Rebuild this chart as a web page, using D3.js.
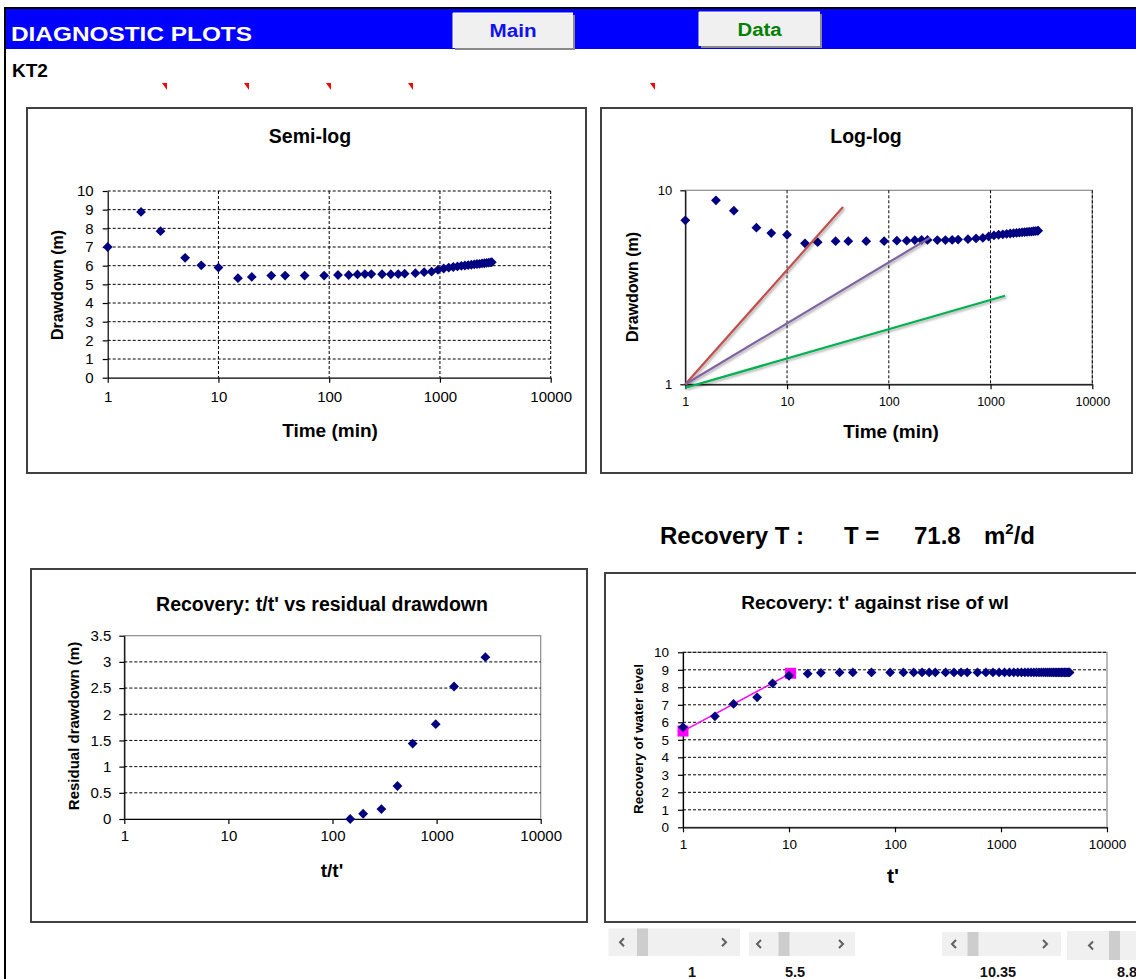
<!DOCTYPE html>
<html lang="en">
<head>
<meta charset="UTF-8" />
<title>Diagnostic plots</title>
<script src="https://d3js.org/d3.v7.min.js"></script>
<style>
  body { margin: 0; background: #fff; overflow: hidden; }
  svg text { font-family: "Liberation Sans", Arial, sans-serif; }
</style>
</head>
<body>
<svg id="page" width="1136" height="979"></svg>
<script>
// pumping phase: time (min) and drawdown (m)
const pumpTime = [1, 2, 3, 5, 7, 10, 15, 20, 30, 40, 60, 90, 120, 150, 180, 210, 240, 300, 360, 420,
  480, 600, 720, 840, 960, 1080, 1200, 1320, 1440, 1560, 1680, 1800, 1920, 2040, 2160, 2280, 2400,
  2520, 2640, 2760, 2880, 2940];
const drawdown = [7.0, 8.88, 7.85, 6.42, 6.02, 5.9, 5.33, 5.4, 5.47, 5.47, 5.47, 5.47, 5.5, 5.5, 5.53,
  5.55, 5.55, 5.54, 5.54, 5.55, 5.57, 5.6, 5.65, 5.68, 5.78, 5.85, 5.9, 5.93, 5.96, 5.99, 6.01, 6.03,
  6.05, 6.07, 6.09, 6.1, 6.12, 6.13, 6.15, 6.16, 6.18, 6.19];

// straight guide lines on the log-log plot (start / end points)
const guideT = [[1, 35.5], [1, 254], [1, 1390]];
const guideS = [[1, 8.2], [1, 5.7], [0.96, 2.86]];

// recovery: t/t' against residual drawdown
const ttRatio = [2941, 1471, 981, 589, 421, 295, 197, 148];
const residual = [3.09, 2.53, 1.81, 1.44, 0.63, 0.19, 0.1, 0.0];

// recovery: t' against rise of water level
const recTime = [1, 2, 3, 5, 7, 10, 15, 20, 30, 40, 60, 90, 120, 150, 180, 210, 240, 300, 360, 420,
  480, 600, 720, 840, 960, 1080, 1200, 1320, 1440, 1560, 1680, 1800, 1920, 2040, 2160, 2280, 2400,
  2520, 2640, 2760, 2880, 3000, 3120, 3240, 3360, 3480, 3600, 3720, 3840, 3960, 4080, 4200, 4320, 4440];
const recRise = [5.72, 6.34, 7.05, 7.43, 8.23, 8.66, 8.78, 8.83, 8.85, 8.85, 8.85, 8.85, 8.85, 8.85,
  8.85, 8.85, 8.85, 8.85, 8.85, 8.85, 8.85, 8.85, 8.85, 8.85, 8.85, 8.85, 8.85, 8.85, 8.85, 8.85,
  8.85, 8.85, 8.85, 8.85, 8.85, 8.85, 8.85, 8.85, 8.85, 8.85, 8.85, 8.85, 8.85, 8.85, 8.85, 8.85,
  8.85, 8.85, 8.85, 8.85, 8.85, 8.85, 8.85, 8.85];

// fitted straight line (scroll bar values)
const fitT = [1, 10.35];
const fitRise = [5.5, 8.8];
const scrollLabels = ["1", "5.5", "10.35", "8.8"];
const transmissivity = "71.8";

// tick values
const logTicks = [1, 10, 100, 1000, 10000];
const tenTicks = [0, 1, 2, 3, 4, 5, 6, 7, 8, 9, 10];
const residTicks = [0, 0.5, 1, 1.5, 2, 2.5, 3, 3.5];
const loglogYTicks = [1, 10];

const FONT = '"Liberation Sans", Arial, sans-serif';
const diamond = "M0,-4.9L4.9,0L0,4.9L-4.9,0Z";
const svg = d3.select("#page");

const defs = svg.append("defs");
defs.append("filter").attr("id", "shadow").attr("x", "-10%").attr("y", "-10%")
  .attr("width", "130%").attr("height", "130%")
  .append("feDropShadow").attr("dx", 1.5).attr("dy", 1.5).attr("stdDeviation", 1)
  .attr("flood-color", "#000").attr("flood-opacity", 0.35);

// ---- page frame and header ----
svg.append("rect").attr("x", 4).attr("y", 7).attr("width", 1132).attr("height", 2).attr("fill", "#000");
svg.append("rect").attr("x", 4).attr("y", 7).attr("width", 2).attr("height", 972).attr("fill", "#000");
svg.append("rect").attr("x", 6).attr("y", 9).attr("width", 1130).attr("height", 40).attr("fill", "#0000ff");
svg.append("text").attr("x", 11).attr("y", 41).attr("font-size", 21).attr("font-weight", "bold")
  .attr("fill", "#fff").attr("textLength", 241).attr("lengthAdjust", "spacingAndGlyphs")
  .text("DIAGNOSTIC PLOTS");

function button(x, y, w, h, str, color, len) {
  svg.append("rect").attr("x", x + 2).attr("y", y + 2).attr("width", w).attr("height", h).attr("fill", "#8a8a8a");
  svg.append("rect").attr("x", x).attr("y", y).attr("width", w).attr("height", h).attr("fill", "#f0f0f0");
  svg.append("path").attr("d", `M${x},${y + h}V${y}H${x + w}`).attr("stroke", "#fff").attr("fill", "none");
  svg.append("text").attr("x", x + w / 2).attr("y", y + h / 2 + 6.5).attr("text-anchor", "middle")
    .attr("font-size", 18).attr("font-weight", "bold").attr("fill", color)
    .attr("textLength", len).attr("lengthAdjust", "spacingAndGlyphs").text(str);
}
button(453, 13, 120, 35, "Main", "#1010f0", 47);
button(699, 12, 121, 34, "Data", "#008000", 44);

svg.append("text").attr("x", 12).attr("y", 77).attr("font-size", 19).attr("font-weight", "bold").text("KT2");

// little red comment markers
svg.selectAll("polygon.mark").data([167, 249, 331, 413, 655]).join("polygon")
  .attr("points", d => `${d - 5},83 ${d},83 ${d},90`).attr("fill", "#ff0000");

// ---- helpers ----
function chartBox(x0, y0, x1, y1) {
  svg.append("rect").attr("x", x0).attr("y", y0).attr("width", x1 - x0).attr("height", y1 - y0)
    .attr("fill", "#fff").attr("stroke", "#404040").attr("stroke-width", 2);
}

function addText(str, x, y, size, rotate) {
  const t = svg.append("text").attr("x", x).attr("y", y).attr("font-size", size)
    .attr("font-weight", "bold").attr("text-anchor", "middle").attr("fill", "#000").text(str);
  if (rotate) t.attr("transform", `rotate(-90,${x},${y})`);
  return t;
}

function drawPlot(cfg) {
  const x = d3.scaleLog().domain([1, 10000]).range([cfg.left, cfg.right]);
  const y = cfg.y.range([cfg.bottom, cfg.top]);
  const g = svg.append("g");
  if (cfg.grayBorder) {
    g.append("rect").attr("x", cfg.left).attr("y", cfg.top)
      .attr("width", cfg.right - cfg.left).attr("height", cfg.bottom - cfg.top)
      .attr("fill", "none").attr("stroke", "#8c8c8c").attr("stroke-width", 1.2);
  }
  g.selectAll("line.h").data(cfg.hGrid).join("line").attr("class", "h")
    .attr("x1", cfg.left).attr("x2", cfg.right)
    .attr("y1", d => y(d)).attr("y2", d => y(d))
    .attr("stroke", "#000").attr("stroke-width", 1).attr("stroke-dasharray", "3,2");
  g.selectAll("line.v").data(cfg.vGrid).join("line").attr("class", "v")
    .attr("x1", d => x(d)).attr("x2", d => x(d))
    .attr("y1", cfg.top).attr("y2", cfg.bottom)
    .attr("stroke", "#000").attr("stroke-width", 1).attr("stroke-dasharray", "3,2");

  const ax = g.append("g").attr("transform", `translate(0,${cfg.bottom})`)
    .call(d3.axisBottom(x).tickValues(logTicks).tickFormat(d3.format("d"))
      .tickSize(5).tickSizeOuter(0).tickPadding(cfg.xPad));
  const ay = g.append("g").attr("transform", `translate(${cfg.left},0)`)
    .call(d3.axisLeft(y).tickValues(cfg.yTicks).tickFormat(d => String(d))
      .tickSize(5).tickSizeOuter(0).tickPadding(cfg.yPad));
  ax.attr("font-family", FONT).selectAll("text").attr("font-size", cfg.xFont);
  ay.attr("font-family", FONT).selectAll("text").attr("font-size", cfg.yFont);
  g.selectAll(".domain, .tick line").attr("stroke", "#000").attr("stroke-width", 1.2);
  return { g, x, y };
}

// ---- Semi-log ----
chartBox(27, 108, 586, 473);
addText("Semi-log", 310, 143, 19.5);
addText("Drawdown (m)", 63, 285, 16, true);
addText("Time (min)", 330, 437, 19);
const semi = drawPlot({
  left: 107.7, right: 550.7, top: 191, bottom: 377.7,
  y: d3.scaleLinear().domain([0, 10]), yTicks: tenTicks,
  hGrid: tenTicks.slice(1), vGrid: logTicks.slice(1),
  xPad: 9, yPad: 9, xFont: 15, yFont: 15
});
semi.g.selectAll("path.pt").data(d3.zip(pumpTime, drawdown)).join("path").attr("class", "pt")
  .attr("d", diamond).attr("fill", "#000080")
  .attr("transform", d => `translate(${semi.x(d[0])},${semi.y(d[1])})`);

// ---- Log-log ----
chartBox(601, 108, 1132, 473);
addText("Log-log", 866, 143, 19.5);
addText("Drawdown (m)", 638, 287, 16, true);
addText("Time (min)", 891, 438, 19);
const ll = drawPlot({
  left: 685.3, right: 1092.3, top: 190.3, bottom: 384.3,
  y: d3.scaleLog().domain([1, 10]), yTicks: loglogYTicks,
  hGrid: [], vGrid: logTicks.slice(1), grayBorder: true,
  xPad: 8, yPad: 8, xFont: 12.5, yFont: 13
});
ll.g.selectAll("path.pt").data(d3.zip(pumpTime, drawdown)).join("path").attr("class", "pt")
  .attr("d", diamond).attr("fill", "#000080")
  .attr("transform", d => `translate(${ll.x(d[0])},${ll.y(d[1])})`);
const guideColors = ["#c0504d", "#8064a2", "#00b050"];
ll.g.selectAll("line.guide").data(d3.range(guideT.length)).join("line").attr("class", "guide")
  .attr("x1", i => ll.x(guideT[i][0])).attr("y1", i => ll.y(guideS[i][0]))
  .attr("x2", i => ll.x(guideT[i][1])).attr("y2", i => ll.y(guideS[i][1]))
  .attr("stroke", i => guideColors[i]).attr("stroke-width", 2.2)
  .attr("filter", "url(#shadow)");

// ---- Recovery T value ----
const tLine = svg.append("g").attr("font-size", 24).attr("font-weight", "bold").attr("fill", "#000");
tLine.append("text").attr("x", 660).attr("y", 544).text("Recovery T :");
tLine.append("text").attr("x", 844).attr("y", 544).text("T =");
tLine.append("text").attr("x", 914).attr("y", 544).text(transmissivity);
const unit = tLine.append("text").attr("x", 984).attr("y", 544);
unit.append("tspan").text("m");
unit.append("tspan").attr("font-size", 15).attr("dy", -10).text("2");
unit.append("tspan").attr("dy", 10).text("/d");

// ---- Recovery: t/t' vs residual drawdown ----
chartBox(31, 569, 587, 922);
addText("Recovery:  t/t' vs residual drawdown", 322, 611, 19.5);
addText("Residual drawdown (m)", 79, 726, 15, true);
addText("t/t'", 332, 877, 19);
const rd = drawPlot({
  left: 124.3, right: 540.7, top: 635.7, bottom: 819,
  y: d3.scaleLinear().domain([0, 3.5]), yTicks: residTicks,
  hGrid: residTicks.slice(1, -1), vGrid: [], grayBorder: true,
  xPad: 6, yPad: 8, xFont: 15, yFont: 15
});
rd.g.selectAll("path.pt").data(d3.zip(ttRatio, residual)).join("path").attr("class", "pt")
  .attr("d", diamond).attr("fill", "#000080")
  .attr("transform", d => `translate(${rd.x(d[0])},${rd.y(d[1])})`);

// ---- Recovery: t' against rise of wl ----
chartBox(605, 573, 1145, 922);
addText("Recovery: t' against rise of wl", 875, 609, 19);
addText("Recovery of water level", 643, 739, 13.5, true);
addText("t'", 893, 883, 21);
const rw = drawPlot({
  left: 683, right: 1107, top: 652.3, bottom: 827.3,
  y: d3.scaleLinear().domain([0, 10]), yTicks: tenTicks,
  hGrid: tenTicks.slice(1), vGrid: [], grayBorder: true,
  xPad: 7, yPad: 9, xFont: 13.5, yFont: 13.5
});
rw.g.append("path").datum(d3.zip(fitT, fitRise))
  .attr("d", d3.line().x(d => rw.x(d[0])).y(d => rw.y(d[1])))
  .attr("stroke", "#ff00ff").attr("stroke-width", 1.5).attr("fill", "none");
rw.g.selectAll("rect.fit").data(d3.zip(fitT, fitRise)).join("rect").attr("class", "fit")
  .attr("x", d => rw.x(d[0]) - 5.5).attr("y", d => rw.y(d[1]) - 5.5)
  .attr("width", 11).attr("height", 11).attr("fill", "#ff00ff");
rw.g.selectAll("path.pt").data(d3.zip(recTime, recRise)).join("path").attr("class", "pt")
  .attr("d", diamond).attr("fill", "#000080")
  .attr("transform", d => `translate(${rw.x(d[0])},${rw.y(d[1])})`);

// ---- scroll bars ----
const bars = [
  { x: 608.5, y: 928.5, w: 131.5, h: 27.5, thumb: 637, left: 621, right: 725 },
  { x: 749, y: 932, w: 106, h: 24, thumb: 778.5, left: 758, right: 842 },
  { x: 942, y: 932, w: 119, h: 24, thumb: 967.5, left: 953, right: 1046 },
  { x: 1067, y: 931, w: 80, h: 29, thumb: 1109, left: 1090, right: null }
];
bars.forEach(b => {
  svg.append("rect").attr("x", b.x).attr("y", b.y).attr("width", b.w).attr("height", b.h).attr("fill", "#f0f0f0");
  svg.append("rect").attr("x", b.thumb).attr("y", b.y).attr("width", 11).attr("height", b.h).attr("fill", "#cdcdcd");
  const cy = b.y + b.h / 2;
  svg.append("path").attr("d", `M${b.left + 3},${cy - 4}L${b.left - 1},${cy}L${b.left + 3},${cy + 4}`)
    .attr("stroke", "#606060").attr("stroke-width", 2).attr("fill", "none");
  if (b.right) {
    svg.append("path").attr("d", `M${b.right - 3},${cy - 4}L${b.right + 1},${cy}L${b.right - 3},${cy + 4}`)
      .attr("stroke", "#606060").attr("stroke-width", 2).attr("fill", "none");
  }
});
const labelX = [692, 795, 998, 1127];
svg.selectAll("text.sb").data(scrollLabels).join("text").attr("class", "sb")
  .attr("x", (d, i) => labelX[i]).attr("y", 977).attr("text-anchor", "middle")
  .attr("font-size", 14.5).attr("font-weight", "bold").attr("fill", "#111").text(d => d);
</script>
</body>
</html>
